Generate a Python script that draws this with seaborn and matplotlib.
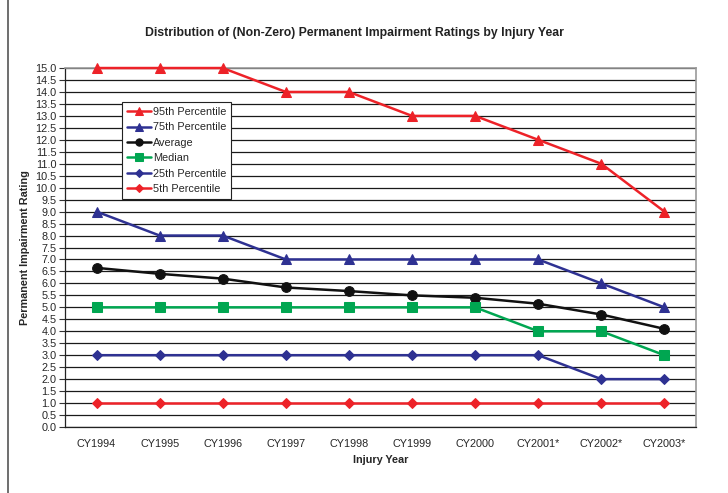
import matplotlib
matplotlib.use("Agg")
import matplotlib.pyplot as plt
import numpy as np
import pandas as pd
import seaborn as sns

years = ["CY1994", "CY1995", "CY1996", "CY1997", "CY1998",
         "CY1999", "CY2000", "CY2001*", "CY2002*", "CY2003*"]
p95 = [15, 15, 15, 14, 14, 13, 13, 12, 11, 9]
p75 = [9, 8, 8, 7, 7, 7, 7, 7, 6, 5]
average = [6.65, 6.4, 6.2, 5.83, 5.68, 5.5, 5.4, 5.15, 4.7, 4.1]
median = [5, 5, 5, 5, 5, 5, 5, 4, 4, 3]
p25 = [3, 3, 3, 3, 3, 3, 3, 3, 2, 2]
p5 = [1, 1, 1, 1, 1, 1, 1, 1, 1, 1]

RED = "#ED2228"
BLUE = "#2E3192"
BLACK = "#111111"
GREEN = "#00A651"

series = [
    ("95th Percentile", p95, RED, "^", 7),
    ("75th Percentile", p75, BLUE, "^", 7),
    ("Average", average, BLACK, "o", 7),
    ("Median", median, GREEN, "s", 7),
    ("25th Percentile", p25, BLUE, "D", 5),
    ("5th Percentile", p5, RED, "D", 5),
]

sns.set_theme(style="white")
plt.rcParams["font.family"] = ["Liberation Sans", "DejaVu Sans"]

fig = plt.figure(figsize=(7.28, 4.93), dpi=100)
ax = fig.add_axes([0.0893, 0.1339, 0.8667, 0.7281])

x = np.arange(len(years))
for name, vals, color, marker, ms in series:
    df = pd.DataFrame({"x": x, "y": vals})
    sns.lineplot(data=df, x="x", y="y", ax=ax, color=color, marker=marker,
                 markersize=ms, markeredgecolor=color, linewidth=1.8,
                 label=name, zorder=3, clip_on=False)

ax.set_xlim(-0.5, 9.5)
ax.set_ylim(0, 15)
ax.set_yticks(np.arange(0, 15.01, 0.5))
ax.set_yticklabels([f"{v:.1f}" for v in np.arange(0, 15.01, 0.5)], fontsize=7.8)
ax.set_xticks(x)
ax.set_xticklabels(years, fontsize=7.8)
ax.set_xticks(np.arange(-0.5, 9.6, 1), minor=True)
ax.tick_params(axis="x", which="major", length=0, pad=9)
ax.tick_params(axis="x", which="minor", length=4, width=0.8, color="#333333", direction="out")
ax.tick_params(axis="y", length=4, width=0.8, color="#333333", direction="out", pad=2, left=True)
ax.grid(axis="y", color="#1a1a1a", linewidth=0.9)
ax.set_axisbelow(True)

for side in ["top", "right"]:
    ax.spines[side].set_color("#999999")
    ax.spines[side].set_linewidth(1.2)
for side in ["left", "bottom"]:
    ax.spines[side].set_color("#222222")
    ax.spines[side].set_linewidth(0.9)

ax.set_xlabel("Injury Year", fontsize=7.8, fontweight="bold", labelpad=4)
ax.set_ylabel("Permanent Impairment Rating", fontsize=7.8, fontweight="bold", labelpad=4)
fig.text(0.487, 0.933, "Distribution of (Non-Zero) Permanent Impairment Ratings by Injury Year",
         ha="center", va="center", fontsize=8.8, fontweight="bold", color="#222222")

leg = ax.legend(loc="upper left", bbox_to_anchor=(0.09, 0.905), fontsize=7.8,
                frameon=True, fancybox=False, edgecolor="#222222", framealpha=1,
                handlelength=2.2, handletextpad=0.2, labelspacing=0.5,
                borderpad=0.45, borderaxespad=0, markerscale=0.75)
leg.get_frame().set_linewidth(0.8)

# outer frame line at the left of the page
fig.add_artist(plt.Line2D([0.011, 0.011], [0, 1], color="#555555", linewidth=1.2))

fig.savefig("out.png", dpi=100)
